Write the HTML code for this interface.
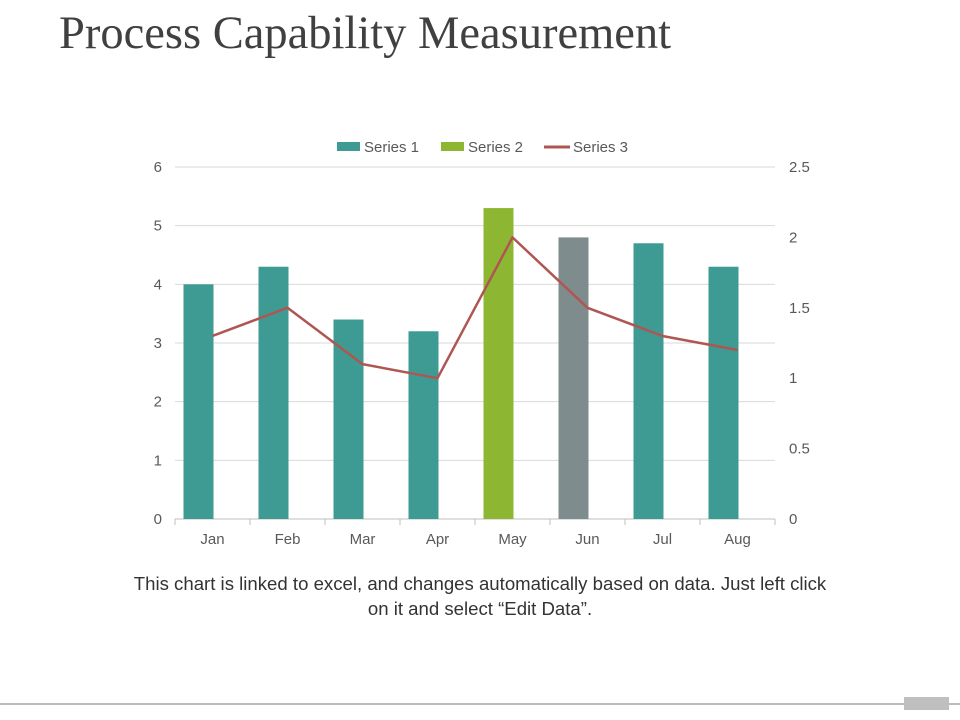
<!DOCTYPE html>
<html><head><meta charset="utf-8"><style>
body{margin:0;width:960px;height:720px;background:#fff;overflow:hidden;position:relative;font-family:"Liberation Sans",sans-serif}
#title{position:absolute;left:59px;top:8px;font-family:"Liberation Serif",serif;font-size:46.5px;color:#404040;margin:0;font-weight:normal;line-height:52px}
#cap{position:absolute;left:0;width:960px;top:571px;text-align:center;font-size:18.6px;color:#333;line-height:25px}
</style></head><body>
<h1 id="title">Process Capability Measurement</h1>
<svg id="chart" width="960" height="720" style="position:absolute;left:0;top:0"></svg>
<div id="cap">This chart is linked to excel, and changes automatically based on data. Just left click<br>on it and select “Edit Data”.</div>
<script>
const categories=["Jan","Feb","Mar","Apr","May","Jun","Jul","Aug"];
const barValues=[4,4.3,3.4,3.2,5.3,4.8,4.7,4.3];
const barSeries=[1,1,1,1,2,1,1,1];
const series3=[1.3,1.5,1.1,1.0,2.0,1.5,1.3,1.2];
const leftTicks=[0,1,2,3,4,5,6];
const rightTicks=[0,0.5,1,1.5,2,2.5];
const NS="http://www.w3.org/2000/svg";
const svg=document.getElementById('chart');
const L=175,R=775,T=167,B=519;
const yL=v=>B-(v/6)*(B-T);
const yR=v=>B-(v/2.5)*(B-T);
const bw=(R-L)/categories.length;
const xC=i=>L+bw*(i+0.5);
function mk(t,a,txt){const e=document.createElementNS(NS,t);for(const k in a)e.setAttribute(k,a[k]);if(txt!==undefined)e.textContent=txt;svg.appendChild(e);return e;}
leftTicks.forEach(v=>{
 const g=mk('line',{x1:L,x2:R,y1:yL(v),y2:yL(v),stroke:v===0?'#bfbfbf':'#d9d9d9','stroke-width':1});
 
 const t=mk('text',{x:162,y:yL(v)+5,'text-anchor':'end','font-size':15,fill:'#595959'},v);
 
});
rightTicks.forEach(v=>{
 const t=mk('text',{x:789,y:yR(v)+5,'font-size':15,fill:'#595959'},v);
 
});
categories.forEach((c,i)=>{
 const tk=mk('line',{x1:L+bw*i,x2:L+bw*i,y1:B,y2:B+6,stroke:'#bfbfbf'});
 
 const t=mk('text',{x:xC(i),y:544,'text-anchor':'middle','font-size':15,fill:'#595959'},c);
 
});
mk('line',{x1:R,x2:R,y1:B,y2:B+6,stroke:'#bfbfbf'});
barValues.forEach((v,i)=>{
 const col=barSeries[i]===2?'#8db733':(categories[i]==='Jun'?'#7f8c8d':'#3d9b93');
 const r=mk('rect',{x:xC(i)-29,y:yL(v),width:30,height:B-yL(v),fill:col});
 
});
const pl=mk('polyline',{points:series3.map((v,i)=>xC(i)+','+yR(v)).join(' '),fill:'none',stroke:'#b05652','stroke-width':2.5,'stroke-linejoin':'round'});

const leg=[['Series 1','#3d9b93',337,'rect'],['Series 2','#8db733',441,'rect'],['Series 3','#b05652',544,'line']];
leg.forEach(([n,c,x,k])=>{
 if(k==='rect'){const r=mk('rect',{x:x,y:142,width:23,height:9,fill:c});}
 else{const l=mk('line',{x1:x,x2:x+26,y1:147,y2:147,stroke:c,'stroke-width':3});}
 const t=mk('text',{x:x+(k==='rect'?27:29),y:152,'font-size':15,fill:'#595959'},n);
 
});
const bl=mk('line',{x1:0,x2:960,y1:704,y2:704,stroke:'#a6a6a6','stroke-width':1.5});

const bx=mk('rect',{x:904,y:697,width:45,height:13,fill:'#bfbfbf'});

</script>
</body></html>
